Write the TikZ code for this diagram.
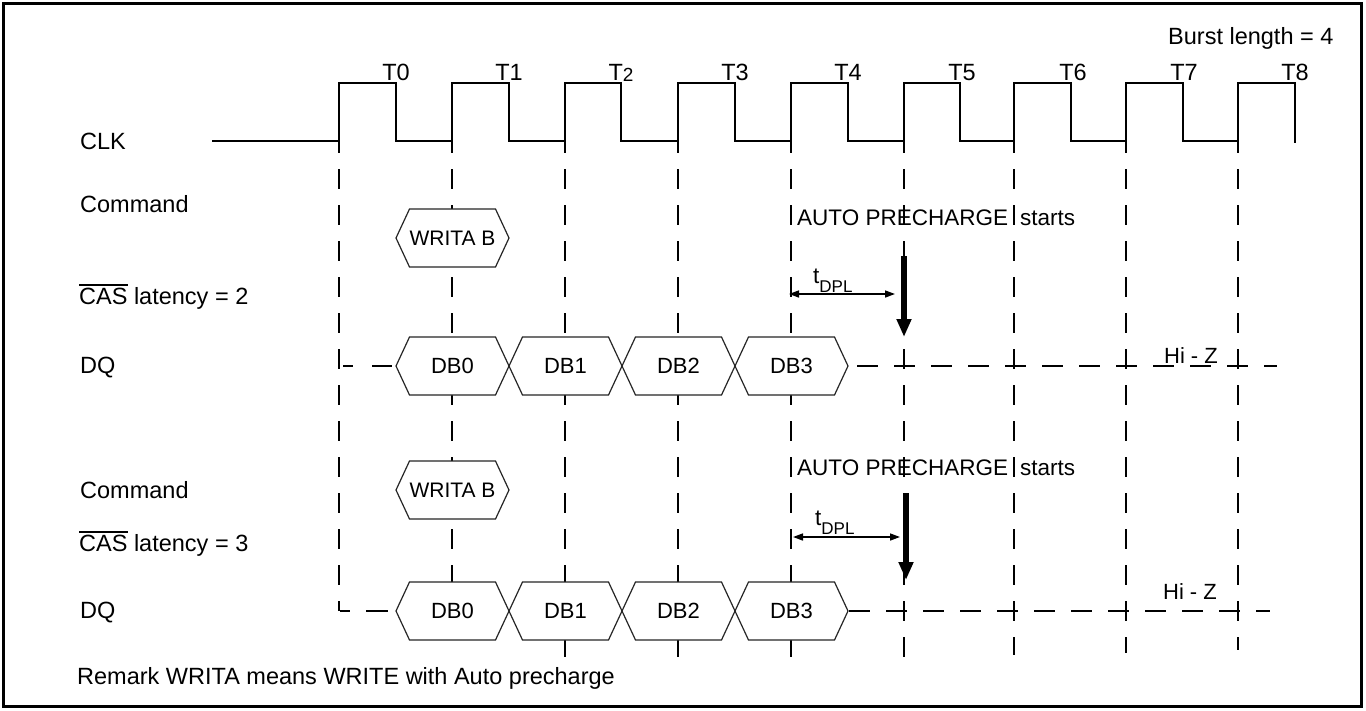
\documentclass[tikz,border=0pt]{standalone}
\usepackage{fontspec}
\setmainfont{Liberation Sans}
\usetikzlibrary{arrows.meta}
\newcommand{\ovl}[1]{\setbox0\hbox{#1}\rlap{\rule[\dimexpr\ht0+2.5pt\relax]{\wd0}{1.5pt}}\box0\relax}
\newcommand{\hexbx}[5]{%
  \draw[hexline] (#2,#4) -- ({#2+13.5},{#4-29}) -- ({#3-13.5},{#4-29}) -- (#3,#4) -- ({#3-13.5},{#4+29}) -- ({#2+13.5},{#4+29}) -- cycle;
  \node[hexlbl] (#1) at ({(#2+#3)/2},#4) {#5};
}
\begin{document}
\begin{tikzpicture}[x=1pt,y=-1pt,
  lbl/.style={font=\fontsize{23.5}{26}\selectfont, inner sep=0pt, anchor=base west},
  tlbl/.style={font=\fontsize{23.5}{26}\selectfont, inner sep=0pt, anchor=base},
  clkline/.style={line width=1.8pt, line join=miter},
  vgrid/.style={line width=2pt, dash pattern=on 20pt off 16pt, dash phase=8pt},
  hgrid/.style={line width=2pt, dash pattern=on 21pt off 16pt},
  hexline/.style={line width=1.2pt, draw=black!85, fill=white},
  hexlbl/.style={font=\fontsize{22}{24}\selectfont, inner sep=0pt},
  aplbl/.style={font=\fontsize{22.5}{25}\selectfont, inner sep=0pt, anchor=west},
  hizlbl/.style={font=\fontsize{22}{24}\selectfont, inner sep=0pt, anchor=base},
  dpl/.style={line width=1.5pt, {Triangle[length=10pt,width=7pt]}-{Triangle[length=10pt,width=7pt]}},
  thickarr/.style={line width=6pt, -{Triangle[length=18pt,width=14pt]}}
]
\useasboundingbox (0,0) rectangle (1366,710);
\fill[white] (0,0) rectangle (1366,710);
\draw[line width=3pt] (3.5,3.5) rectangle (1361,706.5);

% vertical dashed lines at rising edges
\foreach \x/\e in {339/611,452/611,565/657,678/657,791/657,904/662,1014/655,1126/653,1238/650}
  \draw[vgrid] (\x,141) -- (\x,\e);

% clock
\draw[clkline] (212,141) -- (339,141) |- (396,83) |- (452,141) |- (509,83) |- (565,141) |- (621,83)
  |- (678,141) |- (735,83) |- (791,141) |- (848,83) |- (904,141) |- (960,83) |- (1014,141)
  |- (1071,83) |- (1126,141) |- (1183,83) |- (1238,141) |- (1295,83) -- (1295,143);

% clock labels
\node[tlbl] (t0) at (396,80) {T0};
\node[tlbl] (t1) at (509,80) {T1};
\node[tlbl] (t2) at (621,80) {T\raisebox{-1pt}{\fontsize{19}{20}\selectfont 2}};
\node[tlbl] (t3) at (735,80) {T3};
\node[tlbl] (t4) at (848,80) {T4};
\node[tlbl] (t5) at (962,80) {T5};
\node[tlbl] (t6) at (1073,80) {T6};
\node[tlbl] (t7) at (1184,80) {T7};
\node[tlbl] (t8) at (1295,80) {T8};
\node[lbl] (burst) at (1168,44) {Burst length = 4};

% left labels
\node[lbl] (clk) at (80,149.5) {CLK};
\node[lbl] (cmd1) at (80,212.5) {Command};
\node[lbl] (cas2) at (79,304.5) {\ovl{CAS} latency = 2};
\node[lbl] (dq1) at (80,373.5) {DQ};
\node[lbl] (cmd2) at (80,498.5) {Command};
\node[lbl] (cas3) at (79,551.5) {\ovl{CAS} latency = 3};
\node[lbl] (dq2) at (80,618.5) {DQ};
\node[lbl] (remark) at (77,684.5) {Remark WRITA means WRITE with Auto precharge};

% ---------- block 1 ----------
\draw[line width=2pt] (343,366) -- (353,366) (372,366) -- (392,366);
\draw[hgrid] (857,366) -- (1277,366);
\hexbx{wa1}{396}{509}{238}{\fontsize{21}{23}\selectfont WRITA B}
\hexbx{db01}{396}{509}{366}{DB0}
\hexbx{db11}{509}{622}{366}{DB1}
\hexbx{db21}{622}{735}{366}{DB2}
\hexbx{db31}{735}{848}{366}{DB3}
\node[aplbl] (ap1) at (797,218) {AUTO PRECHARGE\hspace{12pt}starts};
\coordinate (a1s) at (904,256);
\coordinate (a1e) at (904,337);
\draw[thickarr] (a1s) -- (a1e);
\coordinate (d1l) at (789,294);
\coordinate (d1r) at (895,294);
\draw[dpl] (d1l) -- (d1r);
\node[anchor=base west, inner sep=0pt, font=\fontsize{22.5}{25}\selectfont] (tdpl1) at (813,283) {t\raisebox{-9pt}{\fontsize{17}{18}\selectfont DPL}};
\node[hizlbl] (hiz1) at (1191,363) {Hi - Z};

% ---------- block 2 ----------
\draw[line width=2pt] (340,611) -- (350,611) (366,611) -- (388,611);
\draw[hgrid] (849,611) -- (1270,611);
\hexbx{wa2}{396}{509}{490}{\fontsize{21}{23}\selectfont WRITA B}
\hexbx{db02}{396}{509}{611}{DB0}
\hexbx{db12}{509}{622}{611}{DB1}
\hexbx{db22}{622}{735}{611}{DB2}
\hexbx{db32}{735}{848}{611}{DB3}
\node[aplbl] (ap2) at (797,468) {AUTO PRECHARGE\hspace{12pt}starts};
\coordinate (a2s) at (906,493);
\coordinate (a2e) at (906,580);
\draw[thickarr] (a2s) -- (a2e);
\coordinate (d2l) at (793,537);
\coordinate (d2r) at (900,537);
\draw[dpl] (d2l) -- (d2r);
\node[anchor=base west, inner sep=0pt, font=\fontsize{22.5}{25}\selectfont] (tdpl2) at (815,525) {t\raisebox{-9pt}{\fontsize{17}{18}\selectfont DPL}};
\node[hizlbl] (hiz2) at (1190,599) {Hi - Z};
\end{tikzpicture}
\end{document}
